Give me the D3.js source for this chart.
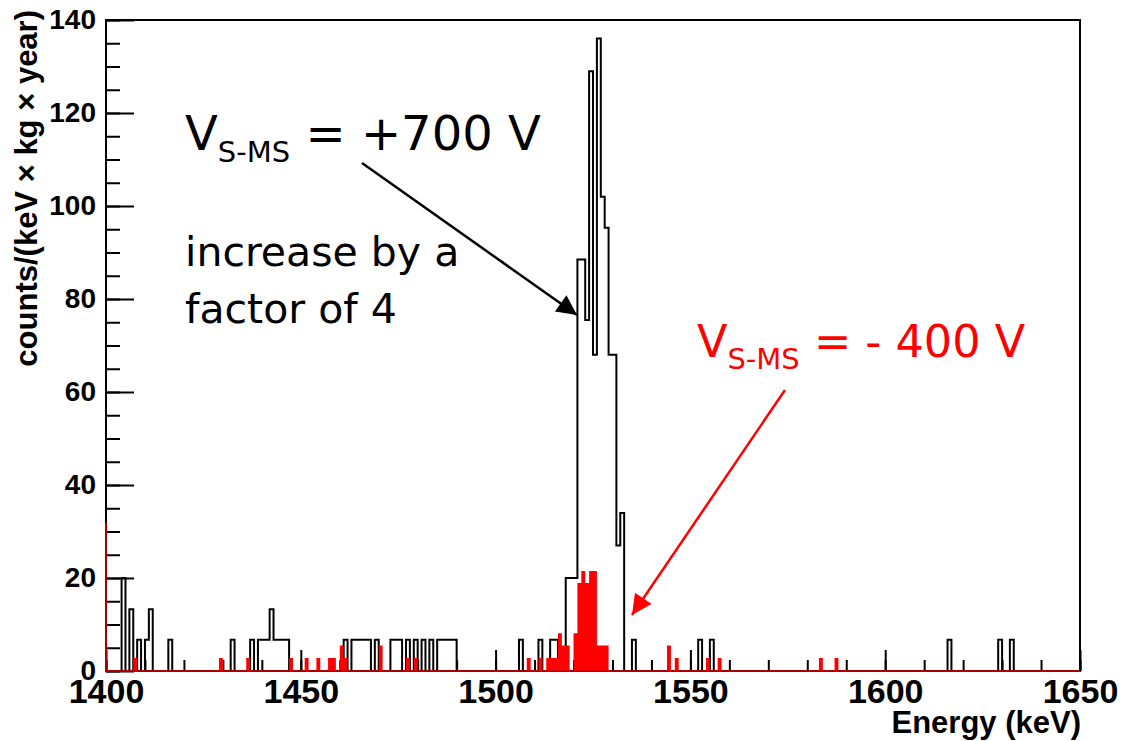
<!DOCTYPE html>
<html>
<head>
<meta charset="utf-8">
<script src="https://cdn.jsdelivr.net/npm/d3@7"></script>
<style>
  html, body { margin: 0; padding: 0; background: #fff; }
  svg { display: block; }
</style>
</head>
<body>
<svg id="chart" width="1130" height="741"></svg>
<script>
// Energy spectrum, 1 keV bins between 1400 and 1650 keV.
const energyRange = [1400, 1650];
const binWidth = 1;

// V(S-MS) = +700 V run: lower bin edge (keV) and rate in each non-empty bin
const posBins = [1404, 1406, 1408, 1410, 1411, 1416, 1432, 1437,
  1439, 1440, 1441, 1442, 1443, 1444, 1445, 1446,
  1461, 1463, 1464, 1465, 1466, 1467, 1469,
  1473, 1474, 1475, 1477, 1479, 1481, 1483, 1485, 1486, 1487, 1488, 1489,
  1506, 1511, 1514, 1515, 1518, 1519, 1520,
  1521, 1522, 1523, 1524, 1525, 1526, 1527, 1528, 1529, 1530, 1531, 1532,
  1535, 1552, 1555, 1616, 1629, 1632];
const posRates = [20, 13.3, 6.7, 6.7, 13.3, 6.7, 6.7, 6.7,
  6.7, 6.7, 6.7, 13.3, 6.7, 6.7, 6.7, 6.7,
  6.7, 6.7, 6.7, 6.7, 6.7, 6.7, 6.7,
  6.7, 6.7, 6.7, 6.7, 6.7, 6.7, 6.7, 6.7, 6.7, 6.7, 6.7, 6.7,
  6.7, 6.7, 6.7, 6.7, 20, 20, 20,
  88.5, 88.5, 75.5, 129, 68, 136, 102, 95.3, 68, 68, 27, 34,
  6.7, 6.7, 6.7, 6.7, 6.7, 6.7];

// V(S-MS) = -400 V run
const negBins = [1407, 1429, 1436, 1447, 1451, 1454, 1457, 1458, 1460, 1461,
  1470, 1477, 1479, 1508, 1511, 1513, 1514, 1515, 1516, 1517, 1518,
  1520, 1521, 1522, 1523, 1524, 1525, 1526, 1527, 1528,
  1544, 1546, 1554, 1557, 1583, 1587];
const negRates = [2.8, 2.8, 2.8, 2.8, 2.8, 2.8, 2.8, 2.8, 5.5, 2.8,
  5.5, 2.8, 2.8, 2.8, 2.8, 2.8, 2.8, 2.8, 8.1, 5.5, 5.5,
  8.1, 18.9, 21.5, 18.9, 21.5, 21.5, 5.5, 5.5, 5.5,
  5.5, 2.8, 2.8, 2.8, 2.8, 2.8];
const negLeftEdge = 32;   // height of the -400 V outline at the lower range edge

const yTicksMajor = [0, 20, 40, 60, 80, 100, 120, 140];
const xTicksMajor = [1400, 1450, 1500, 1550, 1600, 1650];

const svg = d3.select("#chart");
const x = d3.scaleLinear().domain(energyRange).range([106, 1080]);
const y = d3.scaleLinear().domain([0, 140]).range([671, 20]);

// Expand sparse bins into the full histogram
function fullHist(bins, rates) {
  const n = Math.round((energyRange[1] - energyRange[0]) / binWidth);
  const vals = new Array(n).fill(0);
  bins.forEach((b, i) => { vals[Math.round((b - energyRange[0]) / binWidth)] = rates[i]; });
  return vals.map((v, i) => ({ lo: energyRange[0] + i * binWidth, v }));
}
function stepPoints(h) {
  const pts = [];
  h.forEach(d => { pts.push([d.lo, d.v]); pts.push([d.lo + binWidth, d.v]); });
  return pts;
}
const posHist = fullHist(posBins, posRates);
const negHist = fullHist(negBins, negRates);

const fontAxis = "'Liberation Sans', Arial, Helvetica, sans-serif";

// Frame
svg.append("rect")
  .attr("x", x(energyRange[0])).attr("y", y(140))
  .attr("width", x(energyRange[1]) - x(energyRange[0]))
  .attr("height", y(0) - y(140))
  .attr("fill", "none").attr("stroke", "#000").attr("stroke-width", 2);

// Y axis: minor and major ticks pointing inward
const yMinor = d3.range(0, 141, 5);
svg.append("g").attr("transform", `translate(${x(energyRange[0])},0)`)
  .call(d3.axisLeft(y).tickValues(yMinor).tickSize(-14).tickFormat(""))
  .call(g => g.select(".domain").remove())
  .call(g => g.selectAll("line").attr("stroke", "#000").attr("stroke-width", 2));
svg.append("g").attr("transform", `translate(${x(energyRange[0])},0)`)
  .call(d3.axisLeft(y).tickValues(yTicksMajor).tickSize(-28).tickPadding(10).tickFormat(d3.format("d")))
  .call(g => g.select(".domain").remove())
  .call(g => g.selectAll("line").attr("stroke", "#000").attr("stroke-width", 2))
  .call(g => g.selectAll("text").attr("font-family", fontAxis).attr("font-weight", "bold")
    .attr("font-size", 28).attr("fill", "#000"));

// X axis
const xMinor = d3.range(1400, 1651, 10);
svg.append("g").attr("transform", `translate(0,${y(0)})`)
  .call(d3.axisBottom(x).tickValues(xMinor).tickSize(-11).tickFormat(""))
  .call(g => g.select(".domain").remove())
  .call(g => g.selectAll("line").attr("stroke", "#000").attr("stroke-width", 2));
svg.append("g").attr("transform", `translate(0,${y(0)})`)
  .call(d3.axisBottom(x).tickValues(xTicksMajor).tickSize(-21).tickPadding(8).tickFormat(d3.format("d")))
  .call(g => g.select(".domain").remove())
  .call(g => g.selectAll("line").attr("stroke", "#000").attr("stroke-width", 2))
  .call(g => g.selectAll("text").attr("font-family", fontAxis).attr("font-weight", "bold")
    .attr("font-size", 34).attr("fill", "#000"));

// Axis titles
svg.append("text")
  .attr("transform", `translate(${x(energyRange[1]) + 1},733)`)
  .attr("text-anchor", "end")
  .attr("font-family", fontAxis).attr("font-weight", "bold").attr("font-size", 31)
  .text("Energy (keV)");
svg.append("text")
  .attr("transform", `translate(37,10) rotate(-90)`)
  .attr("text-anchor", "end")
  .attr("font-family", fontAxis).attr("font-weight", "bold").attr("font-size", 31)
  .text("counts/(keV \u00d7 kg \u00d7 year)");

// +700 V histogram outline
const line = d3.line().x(d => x(d[0])).y(d => y(d[1]));
svg.append("path")
  .attr("d", line(stepPoints(posHist)))
  .attr("fill", "none").attr("stroke", "#000").attr("stroke-width", 2)
  .attr("stroke-linejoin", "miter");

// -400 V histogram, filled
const area = d3.area().x(d => x(d[0])).y0(y(0)).y1(d => y(d[1]));
svg.append("path")
  .attr("d", area(stepPoints(negHist)))
  .attr("fill", "#ff0000").attr("stroke", "none");
svg.append("path")
  .attr("d", line([[energyRange[0], negLeftEdge], [energyRange[0], 0], [energyRange[1], 0]]))
  .attr("fill", "none").attr("stroke", "#e00000").attr("stroke-width", 1.5);

// Annotations
const fontNote = "'DejaVu Sans', Verdana, Tahoma, sans-serif";
function label(xp, yp, size, color, main, sub, rest) {
  const t = svg.append("text").attr("x", xp).attr("y", yp)
    .attr("font-family", fontNote).attr("font-size", size).attr("fill", color);
  t.append("tspan").text(main);
  t.append("tspan").attr("font-size", 29).attr("dy", 12).text(sub);
  t.append("tspan").attr("dy", -12).text(rest);
}
label(185, 150, 48, "#000", "V", "S-MS", " = +700 V");
label(697, 357, 44.5, "#ff0000", "V", "S-MS", " = - 400 V");

svg.append("text").attr("font-family", fontNote).attr("font-size", 41).attr("fill", "#000")
  .selectAll("tspan").data(["increase by a", "factor of 4"]).join("tspan")
  .attr("x", 185).attr("y", (d, i) => 266 + i * 57).text(d => d);

// Arrows
const defs = svg.append("defs");
function marker(id, color) {
  defs.append("marker").attr("id", id)
    .attr("viewBox", "0 0 10 10").attr("refX", 10).attr("refY", 5)
    .attr("markerUnits", "userSpaceOnUse").attr("markerWidth", 26).attr("markerHeight", 20)
    .attr("orient", "auto")
    .append("path").attr("d", "M0,0 L10,5 L0,10 Z").attr("fill", color);
}
marker("headBlack", "#000");
marker("headRed", "#ff0000");
svg.append("line").attr("x1", 362).attr("y1", 163).attr("x2", 577).attr("y2", 315)
  .attr("stroke", "#000").attr("stroke-width", 2.5).attr("marker-end", "url(#headBlack)");
svg.append("line").attr("x1", 785).attr("y1", 390).attr("x2", 632).attr("y2", 615)
  .attr("stroke", "#ff0000").attr("stroke-width", 2.5).attr("marker-end", "url(#headRed)");
</script>
</body>
</html>
